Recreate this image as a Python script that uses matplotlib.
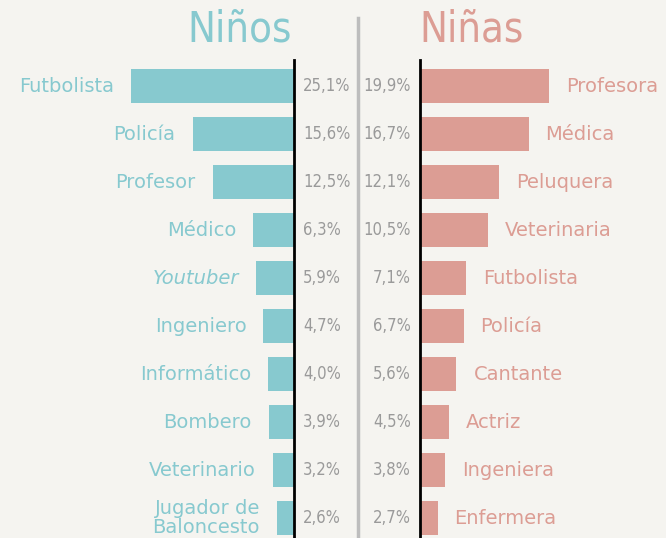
import matplotlib.pyplot as plt
from matplotlib.lines import Line2D

BG = "#f5f4f0"
TEAL = "#87c9cf"
PINK = "#dc9d94"
GREY = "#9a9a9a"

boys_jobs = ["Futbolista", "Policía", "Profesor", "Médico", "Youtuber", "Ingeniero",
             "Informático", "Bombero", "Veterinario", "Jugador de\nBaloncesto"]
boys_pct = [25.1, 15.6, 12.5, 6.3, 5.9, 4.7, 4.0, 3.9, 3.2, 2.6]
girls_jobs = ["Profesora", "Médica", "Peluquera", "Veterinaria", "Futbolista", "Policía",
              "Cantante", "Actriz", "Ingeniera", "Enfermera"]
girls_pct = [19.9, 16.7, 12.1, 10.5, 7.1, 6.7, 5.6, 4.5, 3.8, 2.7]

W, H = 666, 538
PX_PER_PCT = 6.5
ROW0, ROW_STEP = 86, 48

fig = plt.figure(figsize=(W / 100, H / 100), dpi=100, facecolor=BG)

ytop = -ROW0 / ROW_STEP
ybot = (H - ROW0) / ROW_STEP

ax_l = fig.add_axes([0, 0, 294 / W, 1])
ax_r = fig.add_axes([420 / W, 0, (W - 420) / W, 1])
ax_l.set_xlim(294 / PX_PER_PCT, 0)
ax_r.set_xlim(0, (W - 420) / PX_PER_PCT)

label_font = "DejaVu Sans"
num_font = dict(family="DejaVu Sans", stretch="condensed")


def fmt(v):
    return f"{v:.1f}".replace(".", ",") + "%"


for ax, jobs, pct, col, side in [(ax_l, boys_jobs, boys_pct, TEAL, -1),
                                 (ax_r, girls_jobs, girls_pct, PINK, 1)]:
    ax.set_facecolor("none")
    ax.set_ylim(ybot, ytop)
    ax.axis("off")
    ys = list(range(len(jobs)))
    ax.barh(ys, pct, height=0.69, color=col)
    ax.axvline(0, ymin=0, ymax=(H - 60) / H, color="black", lw=2, clip_on=False)
    for y, job, v in zip(ys, jobs, pct):
        style = "italic" if job == "Youtuber" else "normal"
        ax.annotate(job, xy=(v, y), xytext=(17 * side, 0), textcoords="offset pixels",
                    ha="left" if side > 0 else "right", va="center", color=col,
                    fontsize=14, family=label_font, style=style, linespacing=0.95,
                    annotation_clip=False)
        ax.annotate(fmt(v), xy=(0, y), xytext=(-9 * side, 0), textcoords="offset pixels",
                    ha="right" if side > 0 else "left", va="center", color=GREY,
                    fontsize=12, annotation_clip=False, **num_font)

fig.add_artist(Line2D([358 / W, 358 / W], [0, 1 - 18 / H], color="#bdbdbd", lw=2.5))
fig.text(240 / W, 1 - 30 / H, "Niños", ha="center", va="center", color=TEAL,
         fontsize=30, **num_font)
fig.text(472 / W, 1 - 30 / H, "Niñas", ha="center", va="center", color=PINK,
         fontsize=30, **num_font)

fig.savefig("out.png", dpi=100, facecolor=BG)
